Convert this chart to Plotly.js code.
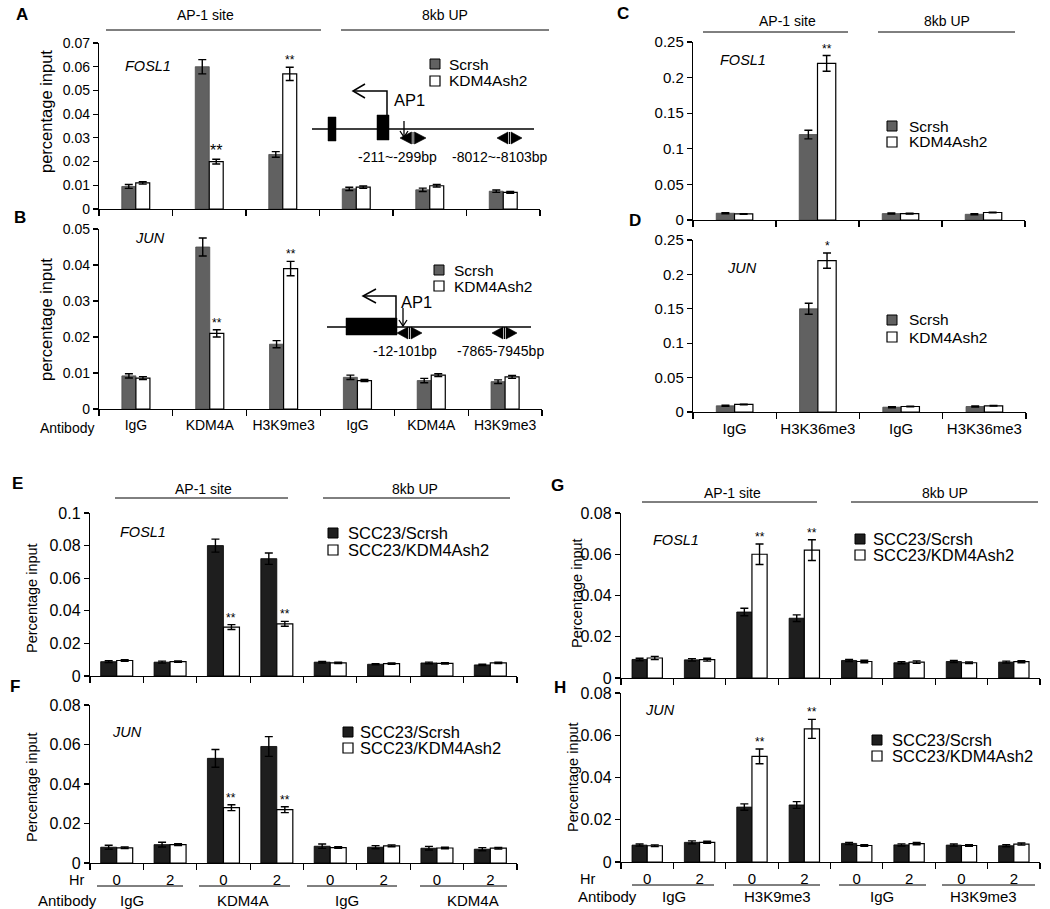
<!DOCTYPE html>
<html><head><meta charset="utf-8">
<script src="https://cdn.plot.ly/plotly-3.0.1.min.js"></script>
<style>html,body{margin:0;padding:0;background:#fff}#chart{width:1050px;height:909px}</style>
</head><body><div id="chart"></div>
<script>
// ================= DATA =================
const regions = ['AP-1 site', '8kb UP'];
const namesAD = ['Scrsh', 'KDM4Ash2'];
const namesEH = ['SCC23/Scrsh', 'SCC23/KDM4Ash2'];

// Panel A (FOSL1) and B (JUN)
const antibodyAB = ['IgG', 'KDM4A', 'H3K9me3', 'IgG', 'KDM4A', 'H3K9me3'];
const scrshA     = [0.0095, 0.060, 0.023, 0.0085, 0.0081, 0.0075];
const scrshA_err = [0.0008, 0.0030, 0.0012, 0.0007, 0.0007, 0.0005];
const kdA        = [0.0110, 0.020, 0.057, 0.0092, 0.0098, 0.0070];
const kdA_err    = [0.0005, 0.0010, 0.0028, 0.0005, 0.0005, 0.0004];
const starsA     = ['', '**', '**', '', '', ''];

const scrshB     = [0.0092, 0.045, 0.018, 0.0088, 0.0079, 0.0076];
const scrshB_err = [0.0006, 0.0025, 0.0010, 0.0006, 0.0006, 0.0005];
const kdB        = [0.0086, 0.021, 0.039, 0.0079, 0.0094, 0.0089];
const kdB_err    = [0.0004, 0.0010, 0.0020, 0.0003, 0.0004, 0.0004];
const starsB     = ['', '**', '**', '', '', ''];

// Panel C (FOSL1) and D (JUN)
const antibodyCD = ['IgG', 'H3K36me3', 'IgG', 'H3K36me3'];
const scrshC     = [0.0095, 0.120, 0.0090, 0.0080];
const scrshC_err = [0.0008, 0.006, 0.0008, 0.0008];
const kdC        = [0.0085, 0.220, 0.0090, 0.0105];
const kdC_err    = [0.0005, 0.011, 0.0005, 0.0005];
const starsC     = ['', '**', '', ''];

const scrshD     = [0.0090, 0.150, 0.0070, 0.0080];
const scrshD_err = [0.0008, 0.008, 0.0008, 0.0008];
const kdD        = [0.0110, 0.220, 0.0080, 0.0090];
const kdD_err    = [0.0005, 0.011, 0.0005, 0.0005];
const starsD     = ['', '*', '', ''];

// Panels E-H: time (Hr) within antibody
const hrs        = ['0', '2', '0', '2', '0', '2', '0', '2'];
const antibodyEF = ['IgG', 'KDM4A', 'IgG', 'KDM4A'];
const antibodyGH = ['IgG', 'H3K9me3', 'IgG', 'H3K9me3'];

const scrshE     = [0.0088, 0.0085, 0.080, 0.072, 0.0085, 0.0072, 0.0080, 0.0068];
const scrshE_err = [0.0006, 0.0006, 0.0040, 0.0035, 0.0005, 0.0004, 0.0005, 0.0004];
const kdE        = [0.0095, 0.0088, 0.030, 0.032, 0.0080, 0.0076, 0.0077, 0.0080];
const kdE_err    = [0.0005, 0.0004, 0.0015, 0.0015, 0.0004, 0.0004, 0.0004, 0.0004];
const starsE     = ['', '', '**', '**', '', '', '', ''];

const scrshF     = [0.0080, 0.0093, 0.053, 0.059, 0.0085, 0.0080, 0.0075, 0.0070];
const scrshF_err = [0.0010, 0.0012, 0.0045, 0.0050, 0.0011, 0.0008, 0.0009, 0.0008];
const kdF        = [0.0077, 0.0093, 0.028, 0.027, 0.0078, 0.0087, 0.0076, 0.0075];
const kdF_err    = [0.0004, 0.0005, 0.0015, 0.0015, 0.0004, 0.0005, 0.0004, 0.0004];
const starsF     = ['', '', '**', '**', '', '', '', ''];

const scrshG     = [0.0090, 0.0088, 0.032, 0.029, 0.0085, 0.0074, 0.0080, 0.0077];
const scrshG_err = [0.0006, 0.0006, 0.0018, 0.0016, 0.0005, 0.0005, 0.0005, 0.0005];
const kdG        = [0.0097, 0.0089, 0.060, 0.062, 0.0080, 0.0077, 0.0074, 0.0079];
const kdG_err    = [0.0008, 0.0007, 0.0050, 0.0050, 0.0006, 0.0006, 0.0004, 0.0005];
const starsG     = ['', '', '**', '**', '', '', '', ''];

const scrshH     = [0.0080, 0.0093, 0.026, 0.027, 0.0088, 0.0081, 0.0080, 0.0077];
const scrshH_err = [0.0005, 0.0007, 0.0015, 0.0016, 0.0005, 0.0005, 0.0005, 0.0005];
const kdH        = [0.0077, 0.0093, 0.050, 0.063, 0.0078, 0.0087, 0.0078, 0.0085];
const kdH_err    = [0.0004, 0.0005, 0.0035, 0.0045, 0.0004, 0.0005, 0.0004, 0.0005];
const starsH     = ['', '', '**', '**', '', '', '', ''];

const ticksA = [0, 0.01, 0.02, 0.03, 0.04, 0.05, 0.06, 0.07];
const ticksB = [0, 0.01, 0.02, 0.03, 0.04, 0.05];
const ticksCD = [0, 0.05, 0.1, 0.15, 0.2, 0.25];
const ticksE = [0, 0.02, 0.04, 0.06, 0.08, 0.1];
const ticksFGH = [0, 0.02, 0.04, 0.06, 0.08];

// ================= LAYOUT HELPERS =================
const W = 1050, H = 909;
const px = x => x / W, py = y => 1 - y / H;
const FONT = '"Liberation Sans", Arial, Helvetica, sans-serif';
const GRAY = '#616161', BLACK = '#1e1e1e';

// leg: [swatch left x, text left x, first row y, second row y]
const panels = [
  {L:'A', gene:'FOSL1', cats:antibodyAB, lab:null, s:scrshA, se:scrshA_err, k:kdA, ke:kdA_err, st:starsA, ymax:0.07, yt:ticksA,
   x0:99, x1:540, ytop:43, ybot:209, bw:0.19, col:GRAY, names:namesAD, tf:14, lf:15.5, leg:[430,447,64,81], gpos:[123,66], letter:[14,15], ytitle:['percentage input',46,112,16.5], starBig:true},
  {L:'B', gene:'JUN', cats:antibodyAB, lab:antibodyAB, s:scrshB, se:scrshB_err, k:kdB, ke:kdB_err, st:starsB, ymax:0.05, yt:ticksB,
   x0:99, x1:542, ytop:229, ybot:409, bw:0.19, col:GRAY, names:namesAD, tf:14, lf:15.5, leg:[434,452,270,286], gpos:[133,238], letter:[12,218], ytitle:['percentage input',46,320,16.5]},
  {L:'C', gene:'FOSL1', cats:antibodyCD, lab:null, s:scrshC, se:scrshC_err, k:kdC, ke:kdC_err, st:starsC, ymax:0.25, yt:ticksCD,
   x0:693, x1:1025, ytop:42, ybot:220, bw:0.22, col:GRAY, names:namesAD, tf:15, lf:15.5, leg:[887,907,126,142], gpos:[718,60], letter:[615,13]},
  {L:'D', gene:'JUN', cats:antibodyCD, lab:antibodyCD, s:scrshD, se:scrshD_err, k:kdD, ke:kdD_err, st:starsD, ymax:0.25, yt:ticksCD,
   x0:693, x1:1026, ytop:240, ybot:412, bw:0.22, col:GRAY, names:namesAD, tf:15, lf:15.5, leg:[887,907,320,337], gpos:[725,268], letter:[627,221]},
  {L:'E', gene:'FOSL1', cats:hrs, lab:null, s:scrshE, se:scrshE_err, k:kdE, ke:kdE_err, st:starsE, ymax:0.1, yt:ticksE,
   x0:90, x1:517, ytop:513, ybot:676, bw:0.30, col:BLACK, names:namesEH, tf:16, lf:16.5, leg:[328,346,533,550], gpos:[118,532], letter:[10,483], ytitle:['Percentage input',32,598,14.5]},
  {L:'F', gene:'JUN', cats:hrs, lab:hrs, s:scrshF, se:scrshF_err, k:kdF, ke:kdF_err, st:starsF, ymax:0.08, yt:ticksFGH,
   x0:90, x1:517, ytop:705, ybot:863, bw:0.30, col:BLACK, names:namesEH, tf:16, lf:16.5, leg:[343,358,732,748], gpos:[110,732], letter:[8,686], ytitle:['Percentage input',32,787,14.5]},
  {L:'G', gene:'FOSL1', cats:hrs, lab:null, s:scrshG, se:scrshG_err, k:kdG, ke:kdG_err, st:starsG, ymax:0.08, yt:ticksFGH,
   x0:621, x1:1040, ytop:513, ybot:678, bw:0.29, col:BLACK, names:namesEH, tf:16, lf:16.5, leg:[855,871,539,555], gpos:[651,540], letter:[549,485], ytitle:['Percentage input',577,593,14.5]},
  {L:'H', gene:'JUN', cats:hrs, lab:hrs, s:scrshH, se:scrshH_err, k:kdH, ke:kdH_err, st:starsH, ymax:0.08, yt:ticksFGH,
   x0:621, x1:1040, ytop:693, ybot:862, bw:0.29, col:BLACK, names:namesEH, tf:16, lf:16.5, leg:[872,890,740,756], gpos:[643,710], letter:[552,687], ytitle:['Percentage input',573,777,14.5]}
];

const traces = [];
const layout = {
  width: W, height: H, margin: {l:0, r:0, t:0, b:0}, showlegend: false,
  paper_bgcolor: '#fff', plot_bgcolor: 'rgba(0,0,0,0)',
  barmode: 'overlay', font: {family: FONT, color: '#000', size: 14},
  annotations: [], shapes: [], hovermode: false
};

function ann(text, x, y, o) {
  layout.annotations.push(Object.assign({text, x:px(x), y:py(y), xref:'paper', yref:'paper', showarrow:false,
    xanchor:'center', yanchor:'middle', font:{family:FONT, size:14, color:'#000'}}, o || {}));
}
function hline(x0, x1, y, w) {
  layout.shapes.push({type:'line', xref:'paper', yref:'paper', x0:px(x0), x1:px(x1), y0:py(y), y1:py(y), line:{color:'#000', width:w || 1}});
}
function P(x, y) { return px(x).toFixed(5) + ',' + py(y).toFixed(5); }
function path(pts, fill, w, fc) {
  const d = 'M' + pts.map(p => P(p[0], p[1])).join('L') + (fill ? 'Z' : '');
  layout.shapes.push({type:'path', xref:'paper', yref:'paper', path:d, fillcolor: fill ? (fc || '#000') : 'rgba(0,0,0,0)', line:{color:'#000', width: w || 1.3}});
}
function rect(x0, y0, x1, y1, fc, lw) {
  layout.shapes.push({type:'rect', xref:'paper', yref:'paper', x0:px(x0), x1:px(x1), y0:py(y1), y1:py(y0), fillcolor:fc || '#000', line:{color:'#000', width:lw === undefined ? 0.5 : lw}});
}
function dblArrow(x0, x1, y) {
  const c = (x0 + x1) / 2;
  path([[x0, y], [c - 1.5, y - 6], [c - 1.5, y + 6]], true, 0.6);
  path([[x1, y], [c + 1.5, y - 6], [c + 1.5, y + 6]], true, 0.6);
  layout.shapes.push({type:'line', xref:'paper', yref:'paper', x0:px(c), x1:px(c), y0:py(y - 6), y1:py(y + 6), line:{color:'#000', width:1}});
}

panels.forEach((p, i) => {
  const n = p.cats.length;
  const sfx = i === 0 ? '' : String(i + 1);
  const xr = 'x' + sfx, yr = 'y' + sfx;
  const idx = p.cats.map((_, j) => j);
  const bounds = [-0.5].concat(idx.map(j => j + 0.5));

  traces.push({type:'bar', name:p.names[0], x:idx, y:p.s, width:p.bw, offset:-p.bw, xaxis:xr, yaxis:yr, showlegend:false,
    marker:{color:p.col, line:{color: p.col === GRAY ? '#4a4a4a' : '#000', width:0.8}},
    error_y:{type:'data', array:p.se, visible:true, color:'#000', thickness:1.4, width:4}});
  traces.push({type:'bar', name:p.names[1], x:idx, y:p.k, width:p.bw, offset:0, xaxis:xr, yaxis:yr, showlegend:false,
    marker:{color:'#ffffff', line:{color:'#000', width:1.2}},
    error_y:{type:'data', array:p.ke, visible:true, color:'#000', thickness:1.4, width:4}});

  layout['xaxis' + sfx] = {
    domain:[px(p.x0), px(p.x1)], range:[-0.5, n - 0.5], anchor:yr, fixedrange:true,
    showline:true, linecolor:'#000', linewidth:1.2, showgrid:false, zeroline:false,
    tickmode:'array', tickvals: p.lab ? idx : [], ticktext: p.lab ? p.lab : [],
    ticks:'outside', ticklen:3, tickcolor:'rgba(0,0,0,0)',
    tickfont:{family:FONT, size: p.L === 'B' ? 14 : 15, color:'#000'},
    minor:{tickmode:'array', tickvals:bounds, ticks:'outside', ticklen:6, tickwidth:1.2, tickcolor:'#000', showgrid:false}
  };
  layout['yaxis' + sfx] = {
    domain:[py(p.ybot), py(p.ytop)], range:[0, p.ymax], anchor:xr, fixedrange:true,
    showline:true, linecolor:'#000', linewidth:1.2, showgrid:false, zeroline:false,
    tickmode:'array', tickvals:p.yt, ticktext:p.yt.map(String),
    ticks:'outside', ticklen:5, tickwidth:1.2, tickcolor:'#000',
    tickfont:{family:FONT, size:p.tf, color:'#000'}
  };

  // legend: swatches + labels
  rect(p.leg[0], p.leg[2] - 5, p.leg[0] + 10, p.leg[2] + 5, p.col, 1);
  rect(p.leg[0], p.leg[3] - 5, p.leg[0] + 10, p.leg[3] + 5, '#ffffff', 1.2);
  ann(p.names[0], p.leg[1], p.leg[2], {xanchor:'left', font:{family:FONT, size:p.lf, color:'#000'}});
  ann(p.names[1], p.leg[1], p.leg[3], {xanchor:'left', font:{family:FONT, size:p.lf, color:'#000'}});

  // significance stars above knock-down bars
  p.st.forEach((s, j) => {
    if (!s) return;
    layout.annotations.push({text:s, xref:xr, yref:yr, x:j + p.bw / 2, y:p.k[j] + p.ke[j], yanchor:'bottom', xanchor:'center',
      showarrow:false, yshift:-2, font:{family:FONT, size:(p.starBig && j === 1) ? 16 : 12, color:'#000'}});
  });

  ann('<i>' + p.gene + '</i>', p.gpos[0], p.gpos[1], {xanchor:'left', font:{family:FONT, size:14.5, color:'#000'}});
  ann('<b>' + p.L + '</b>', p.letter[0], p.letter[1], {xanchor:'left', font:{family:FONT, size:17, color:'#000'}});
  if (p.ytitle) ann(p.ytitle[0], p.ytitle[1], p.ytitle[2], {textangle:-90, font:{family:FONT, size:p.ytitle[3], color:'#000'}});
});

// region headers
hline(106, 321, 30); hline(341, 549, 30);
ann(regions[0], 205, 15); ann(regions[1], 445, 15);
hline(703, 848, 32); hline(878, 1015, 32);
ann(regions[0], 787, 21); ann(regions[1], 947, 21);
hline(115, 288, 498); hline(323, 510, 498);
ann(regions[0], 203, 489); ann(regions[1], 415, 489);
hline(642, 817, 502); hline(851, 1038, 502);
ann(regions[0], 732, 493); ann(regions[1], 945, 493);

// Antibody / Hr rows
ann('Antibody', 67, 428);
ann('Hr', 76, 880, {font:{family:FONT, size:14.5, color:'#000'}});
ann('Antibody', 67, 900, {font:{family:FONT, size:15, color:'#000'}});
[[97,183],[199,290],[307,397],[420,507]].forEach(s => hline(s[0], s[1], 886));
[132, 243, 347, 473].forEach((x, j) => ann(antibodyEF[j], x, 900, {font:{family:FONT, size:15, color:'#000'}}));
ann('Hr', 587, 879, {font:{family:FONT, size:14.5, color:'#000'}});
ann('Antibody', 607, 896, {font:{family:FONT, size:15, color:'#000'}});
[[632,714],[733,820],[839,926],[942,1035]].forEach(s => hline(s[0], s[1], 885));
[674, 777, 882, 983].forEach((x, j) => ann(antibodyGH[j], x, 896, {font:{family:FONT, size:15, color:'#000'}}));

// gene diagram A (FOSL1)
hline(312, 534, 129, 1.5);
rect(328, 117, 336, 141); rect(377, 115, 389, 140);
path([[387, 115], [387, 91], [354, 91]], false, 1.5);
path([[365, 84], [353, 91], [365, 98]], false, 1.5);
ann('AP1', 392, 100, {xanchor:'left', font:{family:FONT, size:16.5, color:'#000'}});
path([[404, 121], [404, 137]], false, 1.3);
path([[400, 131], [404, 137], [408, 131]], false, 1.3);
dblArrow(400, 426, 138); dblArrow(497, 522, 138);
ann('-211~-299bp', 397, 157); ann('-8012~-8103bp', 500, 157);

// gene diagram B (JUN)
hline(327, 531, 327, 1.5);
rect(346, 318, 397, 335);
path([[396, 318], [396, 296], [364, 296]], false, 1.5);
path([[376, 289], [363, 296], [376, 303]], false, 1.5);
ann('AP1', 399, 302, {xanchor:'left', font:{family:FONT, size:16.5, color:'#000'}});
path([[403, 308], [403, 326]], false, 1.3);
path([[399, 320], [403, 326], [407, 320]], false, 1.3);
dblArrow(397, 422, 333); dblArrow(492, 517, 333);
ann('-12-101bp', 405, 351); ann('-7865-7945bp', 500, 351);

Plotly.newPlot('chart', traces, layout, {staticPlot:true, displayModeBar:false});
</script></body></html>
